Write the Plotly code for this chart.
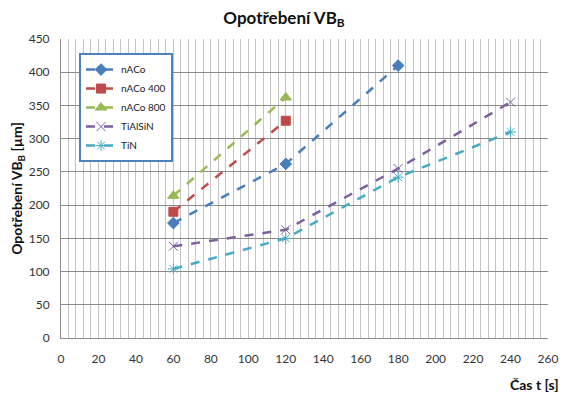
import plotly.graph_objects as go

t_nACo = [60, 120, 180]
vb_nACo = [173, 262, 410]
t_nACo400 = [60, 120]
vb_nACo400 = [190, 327]
t_nACo800 = [60, 120]
vb_nACo800 = [214, 362]
t_TiAlSiN = [60, 120, 180, 240]
vb_TiAlSiN = [138, 163, 255, 355]
t_TiN = [60, 120, 180, 240]
vb_TiN = [104, 150, 242, 310]

series = [
    ("nACo", t_nACo, vb_nACo, "#4a7ebb", "diamond", 9),
    ("nACo 400", t_nACo400, vb_nACo400, "#be4b48", "square", 9),
    ("nACo 800", t_nACo800, vb_nACo800, "#98b954", "triangle-up", 10),
    ("TiAlSiN", t_TiAlSiN, vb_TiAlSiN, "#7d60a0", "x-thin", 9),
    ("TiN", t_TiN, vb_TiN, "#46aac5", "asterisk", 9),
]

fig = go.Figure()
for name, x, y, c, sym, sz in series:
    fig.add_trace(go.Scatter(
        x=x, y=y, name=name, mode="lines+markers",
        line=dict(color=c, width=2.5, dash="dash"),
        marker=dict(symbol=sym, size=sz, color=c,
                    line=dict(color=c, width=1)),
    ))

font = "Lato, 'Open Sans', sans-serif"
fig.update_layout(
    width=561, height=387,
    margin=dict(l=53, r=21, t=31, b=57, autoexpand=False),
    paper_bgcolor="white", plot_bgcolor="white",
    font=dict(family=font, size=12, color="#222"),
    title=dict(text="<b>Opotřebení VB<sub>B</sub></b>", x=0.492, xanchor="center",
               y=0.99, yanchor="top", font=dict(size=17, family=font, color="#111")),
    showlegend=True,
    legend=dict(x=0.037, y=0.953, xanchor="left", yanchor="top",
                bgcolor="white", bordercolor="#4f81bd", borderwidth=2,
                font=dict(size=10, color="#222"), tracegroupgap=4),
    xaxis=dict(range=[0, 260], dtick=20, tick0=0, showgrid=True,
               gridcolor="#c4c4c4", gridwidth=1,
               minor=dict(dtick=4, showgrid=True, gridcolor="#c4c4c4", gridwidth=1),
               showline=True, linecolor="#8c8c8c", linewidth=1, automargin=False,
               ticks="", ticklabelstandoff=10, zeroline=False,
               tickfont=dict(size=12, color="#333")),
    yaxis=dict(range=[0, 450], dtick=50, showgrid=True,
               gridcolor="#8c8c8c", gridwidth=1, automargin=False,
               showline=True, linecolor="#8c8c8c", linewidth=1,
               ticks="", ticklabelstandoff=8, zeroline=False,
               tickfont=dict(size=12, color="#333"),
               title=dict(text="<b>Opotřebení VB<sub>B</sub> [µm]</b>",
                          font=dict(size=14, color="#111"), standoff=10)),
)
fig.add_annotation(text="<b>Čas t [s]</b>", xref="paper", yref="paper",
                   x=1.027, y=-0.12, xanchor="right", yanchor="top",
                   showarrow=False, font=dict(size=14, family=font, color="#111"))

fig.write_html("out.html")
